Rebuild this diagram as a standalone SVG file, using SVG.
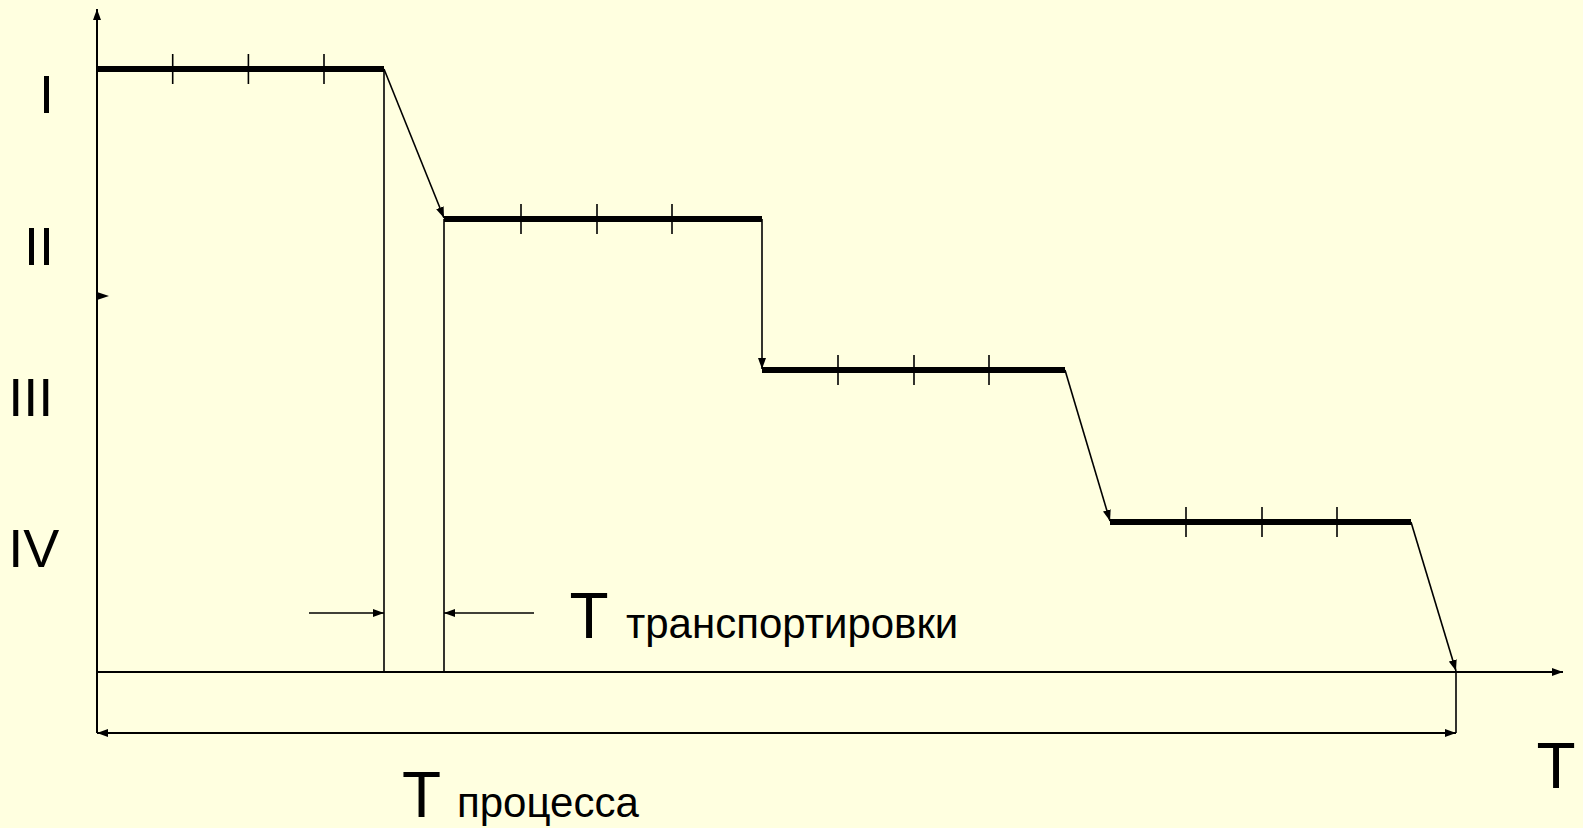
<svg xmlns="http://www.w3.org/2000/svg" width="1583" height="828" viewBox="0 0 1583 828">
<style>
.bg{fill:#FFFFE0}
.thin{stroke:#000;stroke-width:1.6;fill:none}
.axis{stroke:#000;stroke-width:2;fill:none}
.bar{stroke:#000;stroke-width:6;fill:none}
.tick{stroke:#000;stroke-width:1.6}
.lbl{font-family:"Liberation Sans",Arial,sans-serif;font-size:54px;fill:#000}
.big{font-family:"Liberation Sans",Arial,sans-serif;font-size:64px;fill:#000}
.sm{font-family:"Liberation Sans",Arial,sans-serif;font-size:42px;fill:#000}
</style>
<defs>
<marker id="ah" viewBox="0 0 11 8" refX="11" refY="4" markerWidth="11" markerHeight="8" markerUnits="userSpaceOnUse" orient="auto">
<path d="M0,0 L11,4 L0,8 z" fill="#000"/>
</marker>
<marker id="ahs" viewBox="0 0 11 8" refX="0" refY="4" markerWidth="11" markerHeight="8" markerUnits="userSpaceOnUse" orient="auto">
<path d="M11,0 L0,4 L11,8 z" fill="#000"/>
</marker>
</defs>
<rect class="bg" x="0" y="0" width="1583" height="828"/>

<g id="axes">
<line class="axis" x1="97" y1="733" x2="97" y2="9" marker-end="url(#ah)"/>
<line class="axis" x1="97" y1="672" x2="1563" y2="672" marker-end="url(#ah)"/>
<path d="M97,292 L109,296 L97,300 z" fill="#000"/>
</g>

<g id="stage-I">
<line class="bar" x1="97" y1="69" x2="384" y2="69"/>
<line class="tick" x1="172.7" y1="54" x2="172.7" y2="84"/>
<line class="tick" x1="248.4" y1="54" x2="248.4" y2="84"/>
<line class="tick" x1="324" y1="54" x2="324" y2="84"/>
<text class="lbl" x="39" y="113">I</text>
</g>

<g id="stage-II">
<line class="bar" x1="444" y1="219" x2="762" y2="219"/>
<line class="tick" x1="521" y1="204" x2="521" y2="234"/>
<line class="tick" x1="597" y1="204" x2="597" y2="234"/>
<line class="tick" x1="672" y1="204" x2="672" y2="234"/>
<text class="lbl" x="24" y="265">II</text>
</g>

<g id="stage-III">
<line class="bar" x1="762" y1="370" x2="1065" y2="370"/>
<line class="tick" x1="838" y1="355" x2="838" y2="385"/>
<line class="tick" x1="914" y1="355" x2="914" y2="385"/>
<line class="tick" x1="989" y1="355" x2="989" y2="385"/>
<text class="lbl" x="8.2" y="416">III</text>
</g>

<g id="stage-IV">
<line class="bar" x1="1110" y1="522" x2="1411" y2="522"/>
<line class="tick" x1="1186" y1="507" x2="1186" y2="537"/>
<line class="tick" x1="1262" y1="507" x2="1262" y2="537"/>
<line class="tick" x1="1337" y1="507" x2="1337" y2="537"/>
<text class="lbl" x="8.2" y="567">IV</text>
</g>

<g id="connectors">
<line class="thin" x1="384" y1="69" x2="444" y2="218" marker-end="url(#ah)"/>
<line class="thin" x1="762" y1="219" x2="762" y2="369" marker-end="url(#ah)"/>
<line class="thin" x1="1065" y1="370" x2="1110" y2="521" marker-end="url(#ah)"/>
<line class="thin" x1="1411" y1="522" x2="1456" y2="671" marker-end="url(#ah)"/>
<line class="thin" x1="384" y1="69" x2="384" y2="672"/>
<line class="thin" x1="444" y1="219" x2="444" y2="672"/>
<line class="thin" x1="1456" y1="672" x2="1456" y2="733"/>
<line class="thin" x1="309" y1="613" x2="384" y2="613" marker-end="url(#ah)"/>
<line class="thin" x1="534" y1="613" x2="444" y2="613" marker-end="url(#ah)"/>
<line class="axis" x1="97" y1="733" x2="1456" y2="733" marker-start="url(#ahs)" marker-end="url(#ah)"/>
</g>

<g id="labels">
<text class="big" x="569.5" y="638">T</text>
<text class="sm" x="626" y="638">транспортировки</text>
<text class="big" x="402" y="817">T</text>
<text class="sm" x="457" y="817">процесса</text>
<text class="big" x="1536.5" y="788">T</text>
</g>
</svg>
